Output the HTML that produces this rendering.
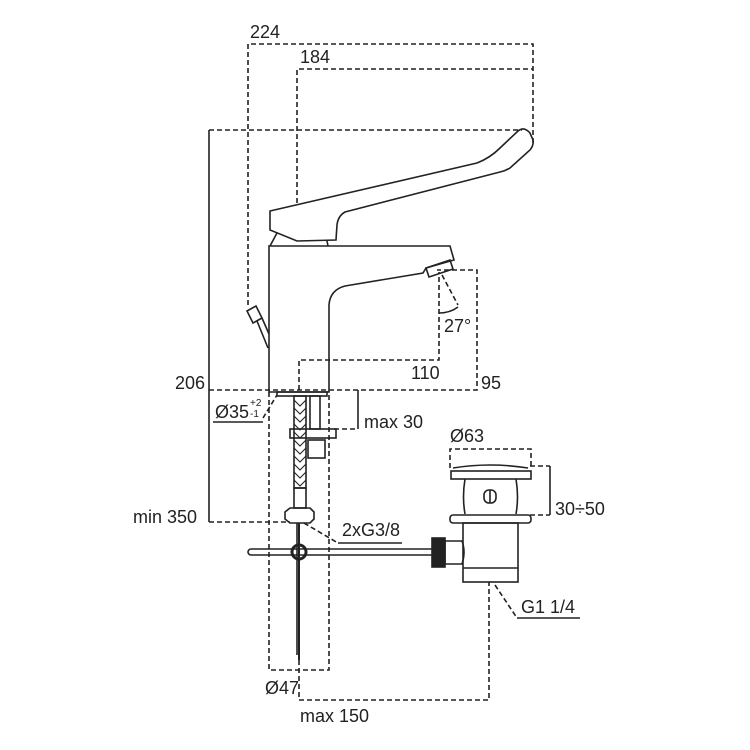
<!DOCTYPE html>
<html><head><meta charset="utf-8"><style>
html,body{margin:0;padding:0;background:#fff}
svg{display:block}
text{font-family:"Liberation Sans Narrow","Liberation Sans",sans-serif;font-size:18px;fill:#222}
</style></head><body>
<svg width="750" height="750" viewBox="0 0 750 750" xmlns="http://www.w3.org/2000/svg">
<g fill="none" stroke="#222" stroke-width="1.6">
<g stroke-dasharray="5,3">
<polyline points="248,305 248,44 533,44 533,145"/>
<polyline points="297,203 297,69 533,69"/>
<polyline points="209,130 522,130"/>
<polyline points="209,390 477,390 477,270 437,270"/>
<polyline points="299,390 299,360 439,360 439,272"/>
<polyline points="269,392 269,670 329,670 329,392"/>
<polyline points="299,660 299,700 489,700 489,582"/>
<polyline points="334,429 358,429"/>
<polyline points="209,522 290,522"/>
<polyline points="450,468 450,449 531,449 531,468"/>
<polyline points="530,466 550,466"/>
<polyline points="530,515 550,515"/>
<line x1="263" y1="418" x2="277" y2="395"/>
<line x1="304" y1="523" x2="338" y2="543"/>
<line x1="442" y1="275" x2="458" y2="305"/>
<line x1="495" y1="585" x2="517" y2="618"/>
</g>
<line x1="209" y1="130" x2="209" y2="522"/>
<line x1="358" y1="390" x2="358" y2="429"/>
<line x1="550" y1="466" x2="550" y2="515"/>
<line x1="213" y1="422" x2="263" y2="422"/>
<line x1="338" y1="543" x2="402" y2="543"/>
<line x1="517" y1="618" x2="580" y2="618"/>
<path d="M439,313 Q450,313 458,307"/>
<path d="M270,211 L477,163 Q490,158 500,148 L518,131 Q524,126 530,133 L533,140 Q534,145 530,150 L510,168 Q505,171 500,172 L345,212 Q338,216 337,225 L336,240 L297,241 L270,230 Z"/>
<path d="M277,233 L270,246 M327,241 L328,246"/>
<path d="M269,392 L269,246 L450,246 L454,260 L426,268 L423,273 L345,286 Q330,290 329,305 L329,392 Z"/>
<path d="M426,268 L450,260 L453,269 L429,277 Z"/>
<path d="M247,311 L256,306 L262,318 L253,323 Z"/>
<path d="M257,321 L268,348 M262,318 L269,334"/>
<rect x="277" y="392" width="50" height="4"/>
<rect x="294" y="396" width="12" height="92"/>
<path d="M294,400 L300,406 L306,400 M294,408 L300,414 L306,408 M294,416 L300,422 L306,416 M294,424 L300,430 L306,424 M294,432 L300,438 L306,432 M294,440 L300,446 L306,440 M294,448 L300,454 L306,448 M294,456 L300,462 L306,456 M294,464 L300,470 L306,464 M294,472 L300,478 L306,472 M294,480 L300,486 L306,480" stroke-width="1.1"/>
<rect x="310" y="396" width="10" height="33"/>
<rect x="290" y="429" width="46" height="9"/>
<rect x="308" y="440" width="17" height="18"/>
<rect x="294" y="488" width="12" height="20"/>
<path d="M285,512 L290,508 L310,508 L314,512 L314,519 L310,523 L290,523 L285,519 Z"/>
<line x1="299" y1="523" x2="299" y2="660" stroke-width="2"/>
<line x1="297" y1="523" x2="297" y2="655"/>
<path d="M251,549 L432,549 M251,555 L432,555 M251,549 A3,3 0 0 0 251,555"/>
<circle cx="299" cy="552" r="7" stroke-width="3"/>
<rect x="432" y="538" width="13" height="29" fill="#222"/>
<path d="M445,541 L462,541 Q466,552 462,564 L445,564 Z"/>
<path d="M453,468 Q490,462 528,468"/>
<rect x="451" y="471" width="80" height="8"/>
<path d="M465,479 Q462,497 465,514 M516,479 Q519,497 516,514"/>
<rect x="484" y="490" width="12" height="13" rx="5"/>
<line x1="490" y1="490" x2="490" y2="503"/>
<rect x="450" y="515" width="81" height="8" rx="3"/>
<rect x="463" y="523" width="55" height="59"/>
<line x1="463" y1="568" x2="518" y2="568"/>
</g>
<text x="250" y="38">224</text>
<text x="300" y="63">184</text>
<text x="175" y="389">206</text>
<text x="133" y="523">min 350</text>
<text x="411" y="379">110</text>
<text x="481" y="389">95</text>
<text x="444" y="332">27°</text>
<text x="215" y="418">Ø35</text>
<text x="250" y="406" style="font-size:10px">+2</text>
<text x="250" y="417" style="font-size:10px">-1</text>
<text x="364" y="428">max 30</text>
<text x="450" y="442">Ø63</text>
<text x="555" y="515">30÷50</text>
<text x="342" y="536">2xG3/8</text>
<text x="521" y="613">G1 1/4</text>
<text x="265" y="694">Ø47</text>
<text x="300" y="722">max 150</text>
</svg>
</body></html>
